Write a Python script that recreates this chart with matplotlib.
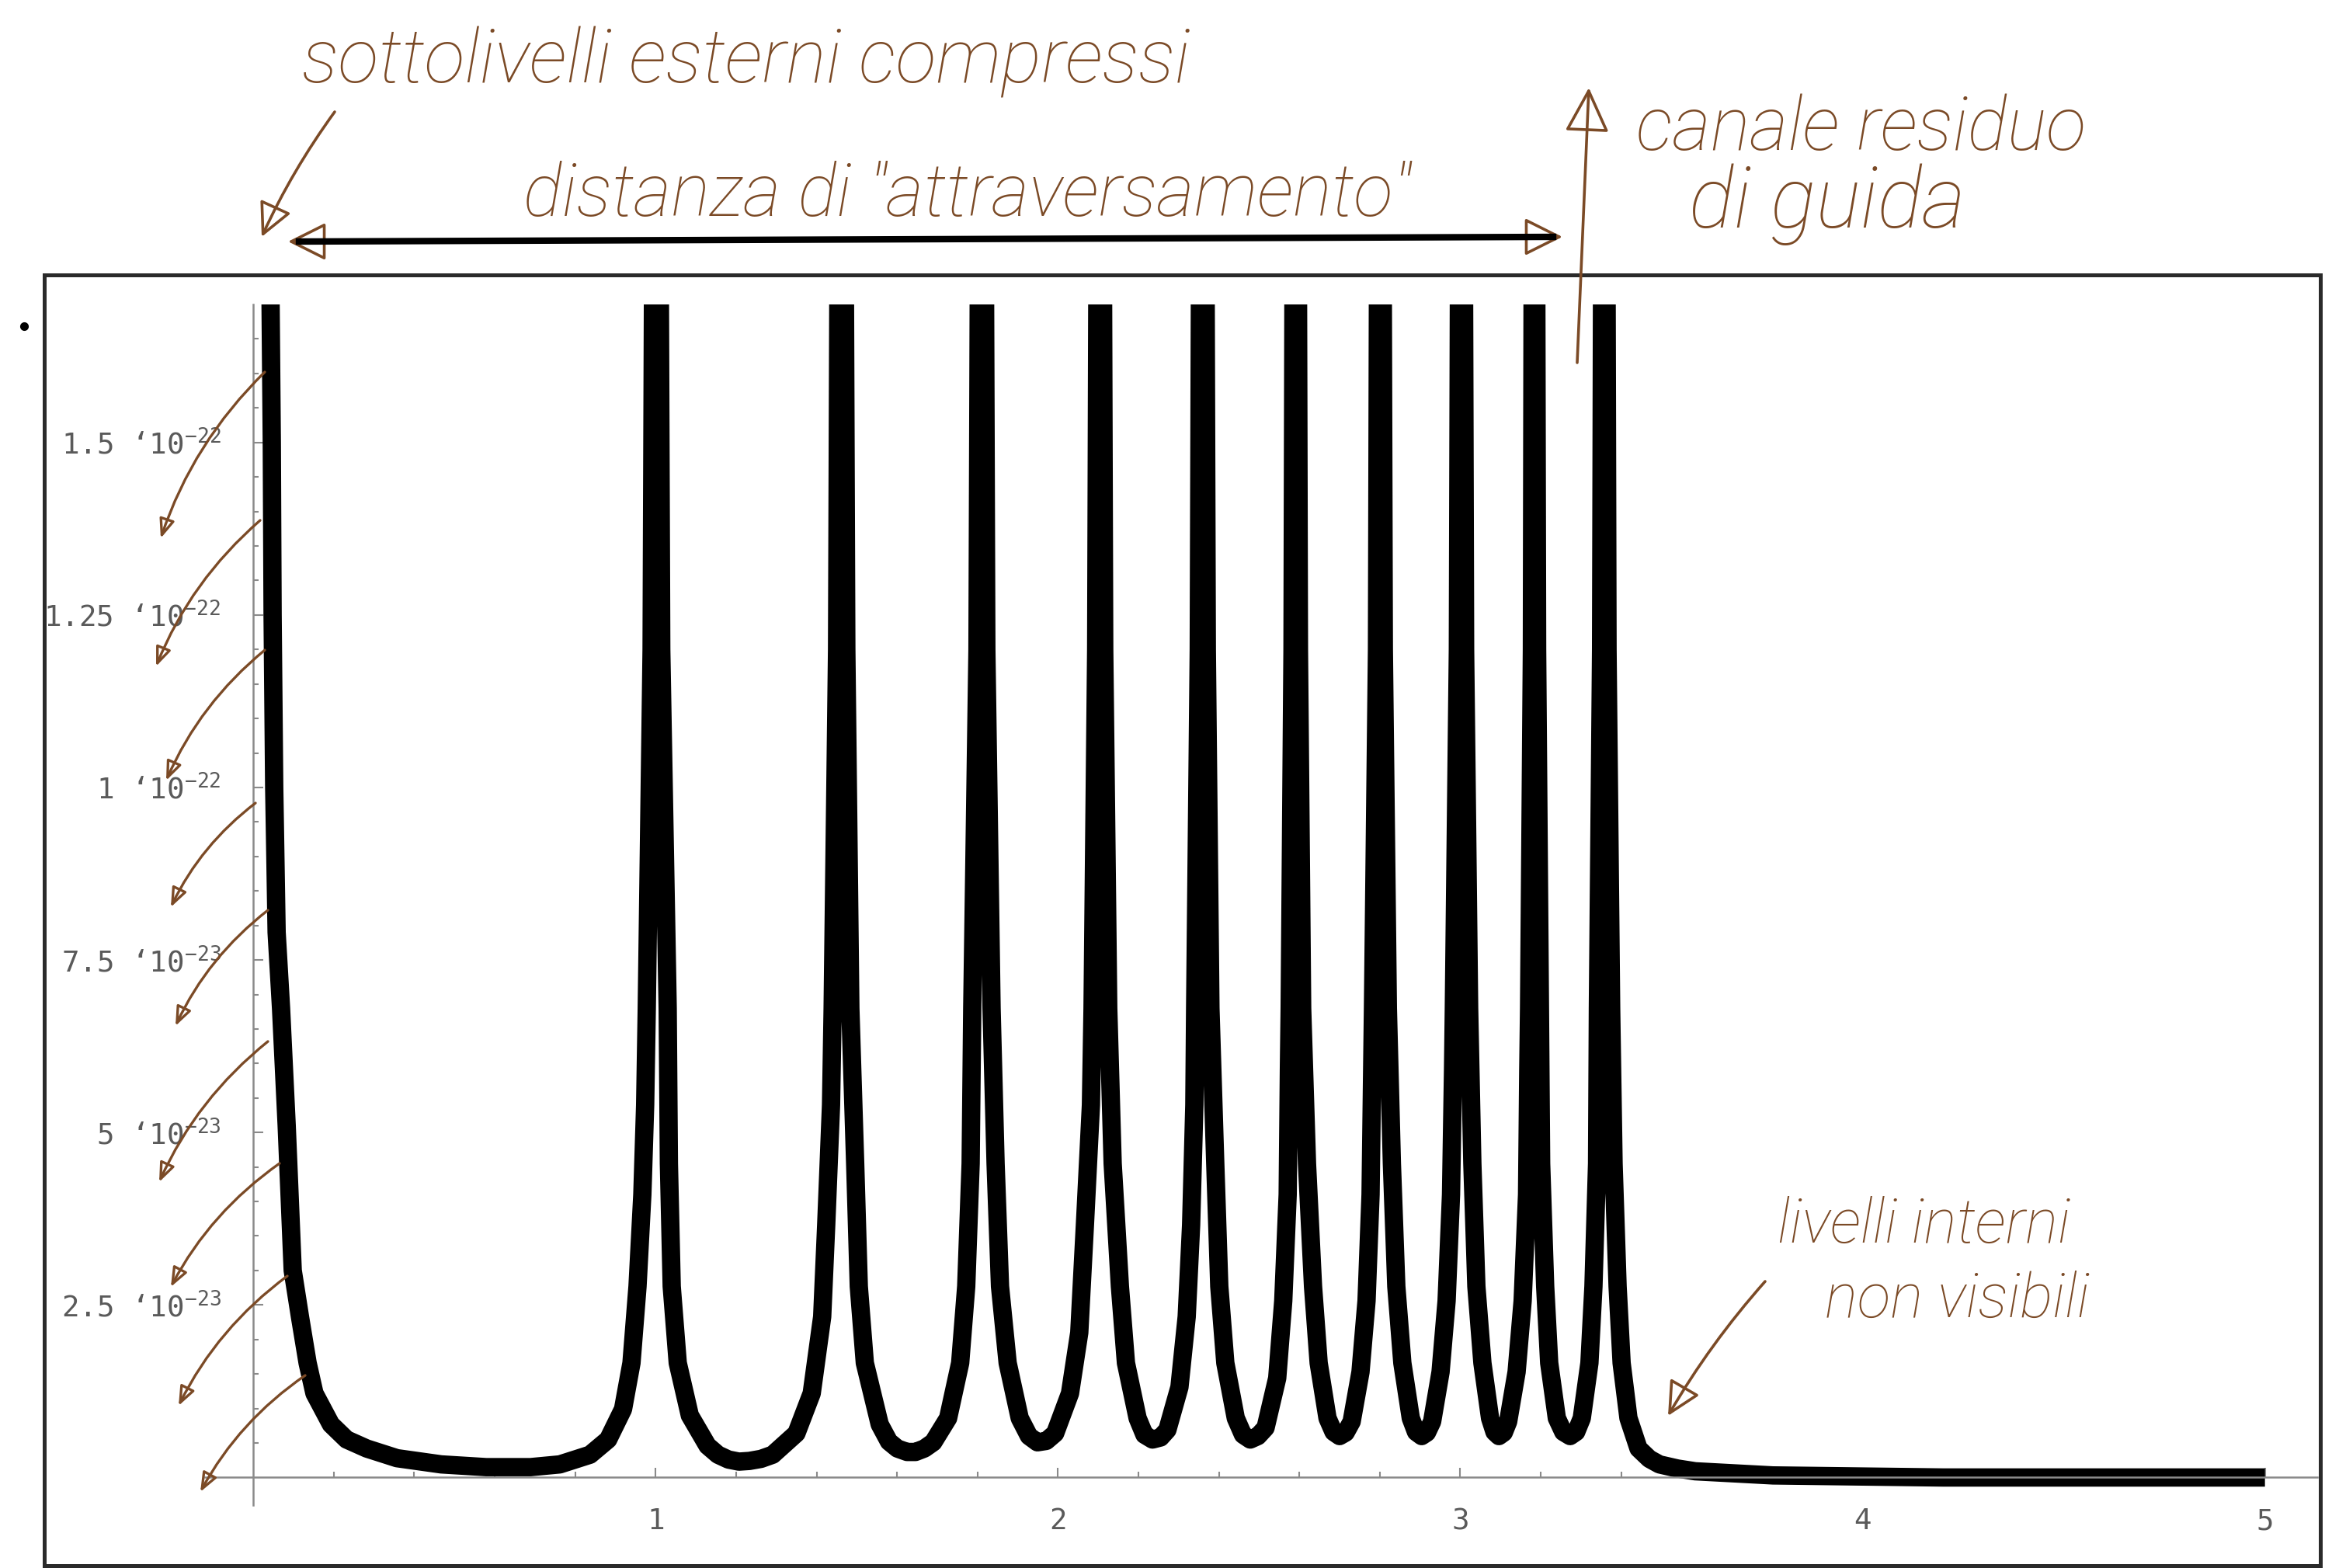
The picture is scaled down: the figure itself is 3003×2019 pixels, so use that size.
import numpy as np
import matplotlib.pyplot as plt
from matplotlib.patches import FancyArrowPatch, Rectangle
from matplotlib.lines import Line2D

plt.rcParams['font.family'] = ['DejaVu Sans Mono', 'DejaVu Sans']
plt.rcParams['mathtext.default'] = 'regular'

# curve, segment by segment: (x, y in units of 1e-23)
# peak tops are clipped by the plot range, 30 just stands for "off the top"
PEAK_TOP = 30.0
peak_x = [1.002, 1.462, 1.811, 2.105, 2.360, 2.591, 2.801, 3.003, 3.184, 3.358]

left_spike = [(0.040, 19.0), (0.046, 15.0), (0.048, 12.5), (0.052, 10.0), (0.058, 7.9),
              (0.069, 6.8), (0.083, 5.1), (0.098, 3.0), (0.116, 2.33), (0.135, 1.66),
              (0.152, 1.22), (0.193, 0.77), (0.232, 0.55), (0.282, 0.42), (0.357, 0.28),
              (0.467, 0.19), (0.579, 0.15), (0.689, 0.15), (0.762, 0.19), (0.837, 0.33),
              (0.882, 0.55), (0.919, 0.99), (0.940, 1.66), (0.955, 2.77), (0.967, 4.1),
              (0.974, 5.4), (0.978, 6.8), (0.990, 12.0)]
valley_1 = [(1.014, 12.0), (1.030, 6.8), (1.033, 4.55), (1.040, 2.77), (1.055, 1.66),
            (1.085, 0.90), (1.129, 0.46), (1.155, 0.33), (1.181, 0.26), (1.207, 0.23),
            (1.233, 0.24), (1.262, 0.27), (1.291, 0.33), (1.350, 0.64), (1.388, 1.22),
            (1.414, 2.33), (1.424, 3.66), (1.436, 5.4), (1.440, 6.8), (1.451, 12.0)]
valley_2 = [(1.474, 12.0), (1.484, 6.8), (1.496, 4.55), (1.505, 2.77), (1.520, 1.66),
            (1.557, 0.77), (1.580, 0.52), (1.601, 0.42), (1.625, 0.37), (1.646, 0.37),
            (1.668, 0.42), (1.690, 0.51), (1.727, 0.86), (1.757, 1.66), (1.772, 2.77),
            (1.783, 4.55), (1.787, 6.8), (1.800, 12.0)]
valley_3 = [(1.822, 12.0), (1.835, 6.8), (1.845, 4.55), (1.856, 2.77), (1.875, 1.66),
            (1.905, 0.86), (1.928, 0.60), (1.949, 0.51), (1.971, 0.53), (1.993, 0.64),
            (2.030, 1.22), (2.053, 2.1), (2.067, 3.66), (2.082, 5.4), (2.086, 6.8),
            (2.095, 12.0)]
valley_4 = [(2.115, 12.0), (2.125, 6.8), (2.136, 4.55), (2.154, 2.77), (2.169, 1.66),
            (2.198, 0.86), (2.215, 0.62), (2.235, 0.55), (2.255, 0.58), (2.272, 0.69),
            (2.302, 1.31), (2.320, 2.33), (2.331, 3.66), (2.339, 5.4), (2.341, 6.8),
            (2.350, 12.0)]
valley_5 = [(2.370, 12.0), (2.379, 6.8), (2.391, 4.55), (2.401, 2.77), (2.416, 1.66),
            (2.442, 0.86), (2.460, 0.62), (2.478, 0.55), (2.497, 0.60), (2.516, 0.72),
            (2.545, 1.44), (2.560, 2.56), (2.571, 4.1), (2.574, 5.9), (2.576, 6.8),
            (2.583, 12.0)]
valley_6 = [(2.599, 12.0), (2.607, 6.8), (2.619, 4.55), (2.634, 2.77), (2.648, 1.66),
            (2.670, 0.86), (2.685, 0.66), (2.700, 0.60), (2.715, 0.65), (2.730, 0.81),
            (2.752, 1.53), (2.767, 2.56), (2.777, 4.1), (2.781, 5.9), (2.783, 6.8),
            (2.793, 12.0)]
valley_7 = [(2.810, 12.0), (2.820, 6.8), (2.830, 4.55), (2.841, 2.77), (2.856, 1.66),
            (2.877, 0.86), (2.890, 0.66), (2.904, 0.60), (2.917, 0.65), (2.930, 0.81),
            (2.951, 1.53), (2.966, 2.56), (2.977, 4.1), (2.982, 5.9), (2.984, 6.8),
            (2.994, 12.0)]
valley_8 = [(3.012, 12.0), (3.022, 6.8), (3.030, 4.55), (3.040, 2.77), (3.055, 1.66),
            (3.074, 0.86), (3.085, 0.66), (3.096, 0.60), (3.108, 0.65), (3.119, 0.81),
            (3.140, 1.53), (3.155, 2.56), (3.166, 4.1), (3.169, 5.9), (3.171, 6.8),
            (3.178, 12.0)]
valley_9 = [(3.191, 12.0), (3.198, 6.8), (3.201, 4.55), (3.211, 2.77), (3.221, 1.66),
            (3.240, 0.86), (3.256, 0.66), (3.273, 0.60), (3.288, 0.66), (3.302, 0.86),
            (3.321, 1.66), (3.331, 2.77), (3.340, 4.55), (3.342, 6.8), (3.350, 12.0)]
tail = [(3.366, 12.0), (3.375, 6.8), (3.381, 4.55), (3.391, 2.77), (3.401, 1.66),
        (3.418, 0.86), (3.443, 0.42), (3.470, 0.27), (3.495, 0.19), (3.540, 0.13),
        (3.584, 0.09), (3.777, 0.03), (4.200, 0.0), (5.000, 0.0)]

segments = [left_spike, valley_1, valley_2, valley_3, valley_4, valley_5,
            valley_6, valley_7, valley_8, valley_9, tail]

xticks = [1, 2, 3, 4, 5]
xtick_labels = ["1", "2", "3", "4", "5"]
yticks = [2.5e-23, 5e-23, 7.5e-23, 1e-22, 1.25e-22, 1.5e-22]
ytick_labels = ["2.5 ʻ10$^{-23}$", "5 ʻ10$^{-23}$", "7.5 ʻ10$^{-23}$",
                "1 ʻ10$^{-22}$", "1.25 ʻ10$^{-22}$", "1.5 ʻ10$^{-22}$"]

pts = list(segments[0])
for px_, seg in zip(peak_x, segments[1:]):
    pts.append((px_, PEAK_TOP))
    pts.extend(seg)
curve_x = np.array([p[0] for p in pts])
curve_y = np.array([p[1] for p in pts]) * 1e-23

W, H = 3003, 2019
BROWN = '#7b4a26'
HAND = dict(family=['Roboto', 'DejaVu Sans'], style='italic', weight='light', color=BROWN)

fig = plt.figure(figsize=(W / 100, H / 100), dpi=100)
ax = fig.add_axes([264 / W, 1 - 1938 / H, 2720 / W, 1546 / H])

ax.plot(curve_x, curve_y, color='black', lw=17,
        solid_joinstyle='round', solid_capstyle='butt')

ax.set_xlim(-0.12, 5.13)
ax.set_ylim(-4e-24, 1.70e-22)
for s in ['top', 'right']:
    ax.spines[s].set_visible(False)
for s in ['left', 'bottom']:
    ax.spines[s].set_position(('data', 0))
    ax.spines[s].set_color('#8a8a8a')
    ax.spines[s].set_linewidth(1.8)
ax.set_xticks(xticks, xtick_labels)
ax.set_yticks(yticks, ytick_labels)
ax.set_xticks([v / 5 for v in range(1, 26) if v % 5], minor=True)
ax.set_yticks([v * 5e-24 for v in range(1, 34) if v % 5], minor=True)
ax.tick_params(which='both', direction='in', color='#8a8a8a', width=1.5,
               labelcolor='#5a5a5a', labelsize=27)
ax.tick_params(which='major', length=9)
ax.tick_params(which='minor', length=5)
ax.tick_params(axis='x', pad=28)
ax.tick_params(axis='y', pad=30)
ax.patch.set_alpha(0)


def fx(px):
    return px / W


def fy(py):
    return 1 - py / H


# outer frame and the little dot
fig.add_artist(Rectangle((fx(57), fy(2016)), fx(2988) - fx(57), fy(354) - fy(2016),
                         transform=fig.transFigure, fill=False, lw=3.6, ec='#2a2a2a'))
fig.add_artist(Line2D([fx(31)], [fy(420)], marker='o', ms=7, color='black',
                      transform=fig.transFigure))

renderer = fig.canvas.get_renderer()


def hand_text(x0, x1, y, s, size=40, max_size=None):
    t = fig.text(fx(x0), fy(y), s, ha='left', va='baseline', fontsize=size, **HAND)
    bb = t.get_window_extent(renderer)
    new = size * (x1 - x0) / bb.width
    if max_size is not None:
        new = min(new, max_size)
    t.set_fontsize(new)
    return t


hand_text(389, 1532, 107, "sottolivelli esterni compressi")
hand_text(674, 1815, 278, 'distanza di "attraversamento"')
hand_text(2107, 2686, 193, "canale residuo")
hand_text(2175, 2531, 293, "di guida")
hand_text(2289, 2799, 1600, "livelli interni", max_size=57)
hand_text(2350, 2799, 1696, "non visibili", max_size=57)


def hand_arrow(p0, p1, rad=0.0, head="-|>,head_length=0.9,head_width=0.45", lw=2.6, scale=30):
    a = FancyArrowPatch((fx(p0[0]), fy(p0[1])), (fx(p1[0]), fy(p1[1])),
                        transform=fig.transFigure, arrowstyle=head, mutation_scale=scale,
                        connectionstyle=f"arc3,rad={rad}", color=BROWN, fc='none', lw=lw,
                        shrinkA=0, shrinkB=0)
    fig.add_artist(a)


# arrows of the notes
hand_arrow((431, 144), (337, 305), rad=0.05)
hand_arrow((2031, 467), (2046, 113), rad=0.0, scale=40)
hand_arrow((2273, 1650), (2148, 1823), rad=0.05)

# double arrow over the crossing distance
fig.add_artist(Line2D([fx(385), fx(2000)], [fy(311), fy(305)], lw=6, color='black',
                      transform=fig.transFigure))
hand_arrow((430, 311), (371, 311), scale=34)
hand_arrow((1960, 305), (2012, 305), scale=34)

# little arrows along the left spike
left_marks = [((341, 479), (207, 693)), ((335, 670), (201, 858)), ((341, 837), (214, 1005)),
              ((329, 1034), (220, 1168)), ((345, 1172), (226, 1321)), ((345, 1341), (205, 1522)),
              ((360, 1498), (220, 1657)), ((370, 1643), (230, 1810)), ((393, 1771), (258, 1921))]
for p0, p1 in left_marks:
    hand_arrow(p0, p1, rad=0.12, head="-|>,head_length=0.5,head_width=0.2", lw=2.4, scale=30)

fig.savefig("out.png", dpi=100)
